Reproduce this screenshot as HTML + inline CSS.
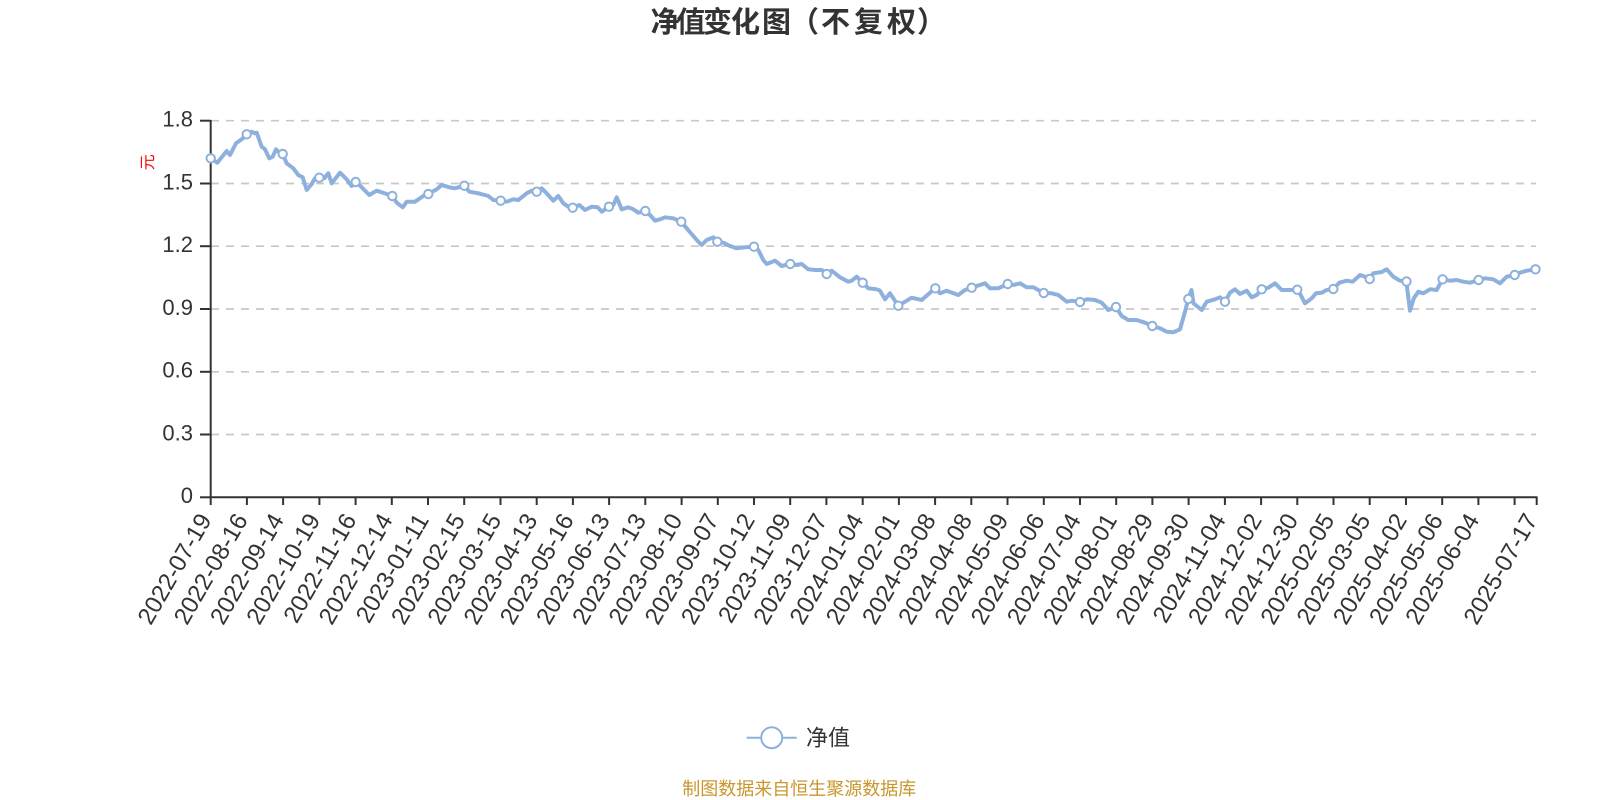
<!DOCTYPE html>
<html><head><meta charset="utf-8"><style>
html,body{margin:0;padding:0;background:#fff;}
svg{display:block;}
text{font-family:"Liberation Sans","Noto Sans CJK SC",sans-serif;}
</style></head><body>
<svg width="1600" height="800" viewBox="0 0 1600 800" xmlns="http://www.w3.org/2000/svg">
<rect width="1600" height="800" fill="#fff"/>
<!-- title -->
<text y="32" font-size="29" font-weight="bold" fill="#333" x="650.5 676.5 703 731 762 790 821 854 887 917">净值变化图（不复权）</text>
<!-- grid -->
<g stroke="#c8c8c8" stroke-width="1.7" stroke-dasharray="8 7">
<line x1="211" y1="120.7" x2="1536" y2="120.7"/>
<line x1="211" y1="183.5" x2="1536" y2="183.5"/>
<line x1="211" y1="246.2" x2="1536" y2="246.2"/>
<line x1="211" y1="309" x2="1536" y2="309"/>
<line x1="211" y1="371.8" x2="1536" y2="371.8"/>
<line x1="211" y1="434.5" x2="1536" y2="434.5"/>
</g>
<!-- axes -->
<g stroke="#333" stroke-width="2">
<line x1="210.7" y1="120" x2="210.7" y2="498"/>
<line x1="210" y1="497.3" x2="1537.5" y2="497.3"/>
<line x1="200" y1="120.7" x2="210.7" y2="120.7"/>
<line x1="200" y1="183.5" x2="210.7" y2="183.5"/>
<line x1="200" y1="246.2" x2="210.7" y2="246.2"/>
<line x1="200" y1="309" x2="210.7" y2="309"/>
<line x1="200" y1="371.8" x2="210.7" y2="371.8"/>
<line x1="200" y1="434.5" x2="210.7" y2="434.5"/>
<line x1="200" y1="497.3" x2="210.7" y2="497.3"/>
<path d="M210.7 497v8M246.9 497v8M283.1 497v8M319.4 497v8M355.6 497v8M391.8 497v8M428 497v8M464.2 497v8M500.5 497v8M536.7 497v8M572.9 497v8M609.1 497v8M645.3 497v8M681.6 497v8M717.8 497v8M754 497v8M790.2 497v8M826.4 497v8M862.7 497v8M898.9 497v8M935.1 497v8M971.3 497v8M1007.5 497v8M1043.8 497v8M1080 497v8M1116.2 497v8M1152.4 497v8M1188.6 497v8M1224.9 497v8M1261.1 497v8M1297.3 497v8M1333.5 497v8M1369.7 497v8M1406 497v8M1442.2 497v8M1478.4 497v8M1514.6 497v8M1536.7 497v8"/>
</g>
<!-- y labels -->
<g font-size="22" fill="#333" text-anchor="end">
<text x="193" y="126.5">1.8</text>
<text x="193" y="189.3">1.5</text>
<text x="193" y="252">1.2</text>
<text x="193" y="314.8">0.9</text>
<text x="193" y="377.6">0.6</text>
<text x="193" y="440.3">0.3</text>
<text x="193" y="503.1">0</text>
</g>
<text transform="translate(148.3,162.3) rotate(-90)" font-size="16" fill="#f00" text-anchor="middle" dominant-baseline="central">元</text>
<!-- x labels -->
<g font-size="24" fill="#333" text-anchor="end" dominant-baseline="central">
<text transform="translate(205.7,516) rotate(-60)">2022-07-19</text>
<text transform="translate(241.9,516) rotate(-60)">2022-08-16</text>
<text transform="translate(278.1,516) rotate(-60)">2022-09-14</text>
<text transform="translate(314.4,516) rotate(-60)">2022-10-19</text>
<text transform="translate(350.6,516) rotate(-60)">2022-11-16</text>
<text transform="translate(386.8,516) rotate(-60)">2022-12-14</text>
<text transform="translate(423,516) rotate(-60)">2023-01-11</text>
<text transform="translate(459.2,516) rotate(-60)">2023-02-15</text>
<text transform="translate(495.5,516) rotate(-60)">2023-03-15</text>
<text transform="translate(531.7,516) rotate(-60)">2023-04-13</text>
<text transform="translate(567.9,516) rotate(-60)">2023-05-16</text>
<text transform="translate(604.1,516) rotate(-60)">2023-06-13</text>
<text transform="translate(640.3,516) rotate(-60)">2023-07-13</text>
<text transform="translate(676.6,516) rotate(-60)">2023-08-10</text>
<text transform="translate(712.8,516) rotate(-60)">2023-09-07</text>
<text transform="translate(749,516) rotate(-60)">2023-10-12</text>
<text transform="translate(785.2,516) rotate(-60)">2023-11-09</text>
<text transform="translate(821.4,516) rotate(-60)">2023-12-07</text>
<text transform="translate(857.7,516) rotate(-60)">2024-01-04</text>
<text transform="translate(893.9,516) rotate(-60)">2024-02-01</text>
<text transform="translate(930.1,516) rotate(-60)">2024-03-08</text>
<text transform="translate(966.3,516) rotate(-60)">2024-04-08</text>
<text transform="translate(1002.5,516) rotate(-60)">2024-05-09</text>
<text transform="translate(1038.8,516) rotate(-60)">2024-06-06</text>
<text transform="translate(1075,516) rotate(-60)">2024-07-04</text>
<text transform="translate(1111.2,516) rotate(-60)">2024-08-01</text>
<text transform="translate(1147.4,516) rotate(-60)">2024-08-29</text>
<text transform="translate(1183.6,516) rotate(-60)">2024-09-30</text>
<text transform="translate(1219.9,516) rotate(-60)">2024-11-04</text>
<text transform="translate(1256.1,516) rotate(-60)">2024-12-02</text>
<text transform="translate(1292.3,516) rotate(-60)">2024-12-30</text>
<text transform="translate(1328.5,516) rotate(-60)">2025-02-05</text>
<text transform="translate(1364.7,516) rotate(-60)">2025-03-05</text>
<text transform="translate(1401,516) rotate(-60)">2025-04-02</text>
<text transform="translate(1437.2,516) rotate(-60)">2025-05-06</text>
<text transform="translate(1473.4,516) rotate(-60)">2025-06-04</text>
<text transform="translate(1531.7,516) rotate(-60)">2025-07-17</text>
</g>
<!-- series line -->
<polyline fill="none" stroke="#8eb0dd" stroke-width="4" stroke-linejoin="round" stroke-linecap="round" points="
210.7,158.3 217.3,162.7 226.7,151 230,155 236,143.3 241.7,139.3 246.7,134.3 251.7,131.7 255,133.3 256.7,132.7 261.7,146.7 265,149.3 269.3,158.3 272.7,156.7 276,149.3 278.3,151.7 282.7,154 286.7,163.3 293.3,168.3 298.3,175 302.7,177.3 306.7,190 311.7,184 315,178.3 319.3,177.7 324.3,178.3 328.3,173.3 331.7,183.3 340,172.7 346.7,179.3 351.7,186 355.7,182 361.7,187.3 369.3,195 376.7,190.7 386.7,194 392.3,196 396.7,202.7 402.7,207.3 406.7,201.7 415,201.7 423.3,196 428.3,194 436.7,189.3 441.7,185 449.3,187.3 455,188.3 464.3,185.7 469.3,191.7 478.3,193.3 488.3,196 493.3,200 500.7,200.7 506.7,201.7 513.3,199.3 518.3,200 526.7,193.3 531.7,190.7 536.7,191.7 541.7,188.3 546.7,193.3 553.3,200.7 558.3,196 563.3,203.3 568.3,206.7 572.7,207.7 579.3,205 585,210 591.7,206.7 597.7,207.3 601.7,211.7 609,206.7 613.3,205 616.7,197.3 621.7,209.3 628.3,207.3 633.3,209.3 638.3,212.7 645.3,211 650,215 655,220.7 660,219.3 665,217.3 673.3,218.3 681.3,221.7 686.7,228.3 693.3,236 698.3,241.7 701.7,245 706.7,240 713.3,237.3 717.3,241.7 723.3,242.7 730,246 736.7,248.3 745,247.3 754,246.7 758.3,250 763.3,260 766.7,264 775,260.7 781.7,266 790.3,264 796.7,265 801.7,264 808.3,269.3 815,270 821.7,270 826.7,274 831.7,270.7 840,277.3 848.3,281.7 851.7,280.7 856.7,276.7 862.7,282.7 868.3,288.3 876.7,289.3 880,290.7 885,299.3 890,293.3 898.3,305.7 906.7,300.7 911.7,297.7 921.7,300 930,292.7 935.3,288.3 940,293.3 946.7,290.7 958.3,295 965,290 971.7,287.7 976.7,286 985,283.3 990,288.3 998.3,288.3 1007.7,284 1013.3,285 1020,283.3 1026.7,287.3 1033.3,287.3 1043.7,293 1051.7,293.3 1058.3,295 1066.7,301.7 1071.7,300.7 1080,302 1086.7,299.3 1095,300 1101.7,302.7 1108.3,310 1116,307 1121.7,316 1128.3,320 1136.7,320 1145,322.7 1152.3,326 1160,328.3 1166.7,331.7 1173.3,332.3 1180,329.3 1185,311.7 1188.3,299 1191.5,290 1193.5,303.3 1201.7,310 1206.7,301.7 1215,299.3 1220,297.3 1225,301.7 1230,292.7 1235,289.3 1240,294 1246.7,290.7 1251.7,297.3 1256.7,295 1261.7,289.3 1268.3,287.7 1275,283.3 1281.7,290 1288.3,290 1297.3,289.7 1300.7,295 1305,303.3 1311.7,298.3 1316,293.3 1321.7,292.7 1326.7,290 1333.3,289 1339.3,282.7 1346.7,280.7 1352.7,281.7 1360,275 1365,276.7 1369.7,279 1373.3,273.3 1381.7,272 1386.7,269.3 1393.3,276.7 1400,280.7 1406.3,281.5 1410,310.7 1413.8,298.3 1418.3,291.7 1423.3,293.3 1430,289.3 1436.7,290 1442.5,279.3 1450,280.7 1456.7,280 1463.3,281.7 1470,282.7 1478.5,280 1485,278.3 1493.3,279.3 1500,283.3 1506.7,276.7 1514.7,275 1520,272.7 1526.7,270.7 1536,269.3"/>
<!-- markers -->
<g fill="#fff" stroke="#8eb0dd" stroke-width="2">
<circle cx="210.7" cy="158.3" r="4.2"/><circle cx="246.7" cy="134.3" r="4.2"/><circle cx="282.7" cy="154" r="4.2"/><circle cx="319.3" cy="177.7" r="4.2"/><circle cx="355.7" cy="182" r="4.2"/><circle cx="392.3" cy="196" r="4.2"/><circle cx="428.3" cy="194" r="4.2"/><circle cx="464.3" cy="185.7" r="4.2"/><circle cx="500.7" cy="200.7" r="4.2"/><circle cx="536.7" cy="191.7" r="4.2"/><circle cx="572.7" cy="207.7" r="4.2"/><circle cx="609" cy="206.7" r="4.2"/><circle cx="645.3" cy="211" r="4.2"/><circle cx="681.3" cy="221.7" r="4.2"/><circle cx="717.3" cy="241.7" r="4.2"/><circle cx="754" cy="246.7" r="4.2"/><circle cx="790.3" cy="264" r="4.2"/><circle cx="826.7" cy="274" r="4.2"/><circle cx="862.7" cy="282.7" r="4.2"/><circle cx="898.3" cy="305.7" r="4.2"/><circle cx="935.3" cy="288.3" r="4.2"/><circle cx="971.7" cy="287.7" r="4.2"/><circle cx="1007.7" cy="284" r="4.2"/><circle cx="1043.7" cy="293" r="4.2"/><circle cx="1080" cy="302" r="4.2"/><circle cx="1116" cy="307" r="4.2"/><circle cx="1152.3" cy="326" r="4.2"/><circle cx="1188.3" cy="299" r="4.2"/><circle cx="1225" cy="301.7" r="4.2"/><circle cx="1261.7" cy="289.3" r="4.2"/><circle cx="1297.3" cy="289.7" r="4.2"/><circle cx="1333.3" cy="289" r="4.2"/><circle cx="1369.7" cy="279" r="4.2"/><circle cx="1406.5" cy="281.5" r="4.2"/><circle cx="1442.6" cy="279.3" r="4.2"/><circle cx="1478.6" cy="280" r="4.2"/><circle cx="1514.7" cy="275" r="4.2"/><circle cx="1535.5" cy="269.3" r="4.2"/>
</g>
<!-- legend -->
<line x1="746.7" y1="737.7" x2="796.7" y2="737.7" stroke="#8eb0dd" stroke-width="2"/>
<circle cx="771.7" cy="737.7" r="10.5" fill="#fff" stroke="#8eb0dd" stroke-width="2"/>
<text x="806" y="745.5" font-size="22" fill="#333">净值</text>
<!-- footer -->
<text x="799.3" y="795" font-size="18" fill="#c9962e" text-anchor="middle">制图数据来自恒生聚源数据库</text>
</svg>
</body></html>
